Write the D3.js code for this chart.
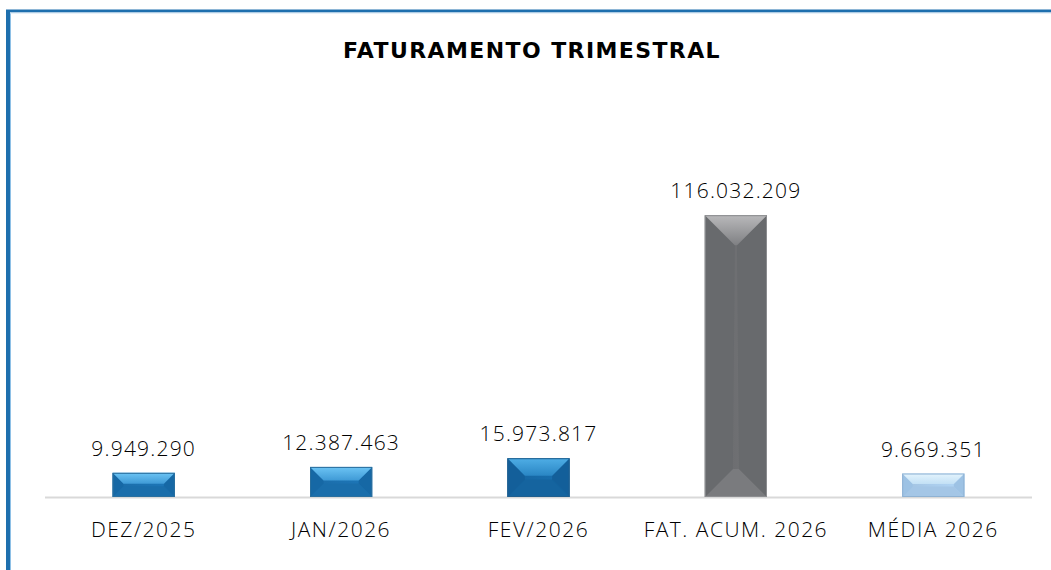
<!DOCTYPE html>
<html><head><meta charset="utf-8">
<script src="https://cdn.jsdelivr.net/npm/d3@7"></script>
<style>
html,body{margin:0;padding:0;background:#fff;}
svg{display:block;}
</style></head>
<body>
<svg id="chart" width="1051" height="570"></svg>
<script>
const title = "FATURAMENTO TRIMESTRAL";
const categories = ["DEZ/2025","JAN/2026","FEV/2026","FAT. ACUM. 2026","MÉDIA 2026"];
const values = [9949290, 12387463, 15973817, 116032209, 9669351];
const valueLabels = ["9.949.290","12.387.463","15.973.817","116.032.209","9.669.351"];
const palette = [
  {top1:"#6cc4f4", top2:"#3f9ad6", side:"#1668a5", bottom:"#1a6eab", mid:"#1c72b1", edge:"#2a6f9e"},
  {top1:"#6cc4f4", top2:"#3f9ad6", side:"#1668a5", bottom:"#1a6eab", mid:"#1c72b1", edge:"#2a6f9e"},
  {top1:"#4faee6", top2:"#2a86c4", side:"#135f9a", bottom:"#15649f", mid:"#176aa8", edge:"#205f8e"},
  {top1:"#b9b9bb", top2:"#7f8083", side:"#686a6d", bottom:"#7a7b7e", mid:"#6e6f72", edge:"#8c8d90"},
  {top1:"#e4f4fd", top2:"#c2e0f5", side:"#9dc2e4", bottom:"#a4c6e6", mid:"#abcdec", edge:"#8fb2d3"}
];

const svg = d3.select("#chart");
const W = 1051, H = 570;
const font = "'Open Sans', Lato, sans-serif";
const titleFont = "'DejaVu Sans', 'Open Sans', sans-serif";

svg.append("rect").attr("x",0).attr("y",0).attr("width",W).attr("height",H).attr("fill","#fff");
// frame (top + left)
svg.append("line").attr("x1",6).attr("x2",W).attr("y1",11).attr("y2",11).attr("stroke","#1e6fae").attr("stroke-width",3);
svg.append("line").attr("x1",8).attr("x2",8).attr("y1",10).attr("y2",H).attr("stroke","#1e6fae").attr("stroke-width",4);
svg.append("line").attr("x1",10.5).attr("x2",10.5).attr("y1",12.5).attr("y2",H).attr("stroke","#8ec0e6").attr("stroke-width",1);
svg.append("line").attr("x1",10).attr("x2",W).attr("y1",13).attr("y2",13).attr("stroke","#cfe3f3").attr("stroke-width",1);

svg.append("text").attr("x",532).attr("y",58).attr("text-anchor","middle")
  .attr("font-family",titleFont).attr("font-weight","bold").attr("font-size",22)
  .attr("letter-spacing","1.4px").attr("fill","#000").text(title);

const x = d3.scaleBand().domain(categories).range([45,1032]).paddingInner(0.685).paddingOuter(0.3425);
const y = d3.scaleLinear().domain([0,140000000]).range([497,157]);

// axis baseline
svg.append("line").attr("x1",45).attr("x2",1032).attr("y1",497.5).attr("y2",497.5).attr("stroke","#d9d9d9").attr("stroke-width",2);

const defs = svg.append("defs");
const g = svg.append("g");
categories.forEach((c,i)=>{
  const x0 = x(c), bw = x.bandwidth(), x1 = x0+bw;
  const yt = y(values[i]), yb = y(0), h = yb-yt;
  const dTop = Math.min(bw/2, h*0.45, 30);
  const dBot = Math.min(bw/2, h*0.45, 28);
  const p = palette[i];
  const gid = "tg"+i, mid = "mg"+i;
  const lg = defs.append("linearGradient").attr("id",gid).attr("x1",0).attr("y1",0).attr("x2",0).attr("y2",1);
  lg.append("stop").attr("offset","0%").attr("stop-color",p.top1);
  lg.append("stop").attr("offset","100%").attr("stop-color",p.top2);
  const mg = defs.append("linearGradient").attr("id",mid).attr("x1",0).attr("y1",0).attr("x2",1).attr("y2",0);
  mg.append("stop").attr("offset","0%").attr("stop-color",d3.color(p.mid).darker(0.15));
  mg.append("stop").attr("offset","50%").attr("stop-color",p.mid);
  mg.append("stop").attr("offset","100%").attr("stop-color",d3.color(p.mid).brighter(0.12));
  const bg = g.append("g");
  bg.append("rect").attr("x",x0).attr("y",yt).attr("width",bw).attr("height",h).attr("fill",`url(#${mid})`);
  // bottom bevel
  bg.append("path").attr("d",`M${x0},${yb}L${x0+dBot},${yb-dBot}L${x1-dBot},${yb-dBot}L${x1},${yb}Z`).attr("fill",p.bottom);
  // left side
  bg.append("path").attr("d",`M${x0},${yt}L${x0+dTop},${yt+dTop}L${x0+dBot},${yb-dBot}L${x0},${yb}Z`).attr("fill",p.side);
  // right side
  bg.append("path").attr("d",`M${x1},${yt}L${x1-dTop},${yt+dTop}L${x1-dBot},${yb-dBot}L${x1},${yb}Z`).attr("fill",p.side);
  // top bevel
  bg.append("path").attr("d",`M${x0},${yt}L${x0+dTop},${yt+dTop}L${x1-dTop},${yt+dTop}L${x1},${yt}Z`).attr("fill",`url(#${gid})`);
  bg.append("rect").attr("x",x0+0.5).attr("y",yt+0.5).attr("width",bw-1).attr("height",h-1)
    .attr("fill","none").attr("stroke",p.edge).attr("stroke-width",1);
  svg.append("text").attr("x",x0+bw/2).attr("y",yt-17).attr("text-anchor","middle")
    .attr("font-family",font).attr("font-weight",300).attr("font-size",21).attr("letter-spacing","1.2px")
    .attr("fill","#000").text(valueLabels[i]);
  svg.append("text").attr("x",x0+bw/2).attr("y",537).attr("text-anchor","middle")
    .attr("font-family",font).attr("font-weight",300).attr("font-size",21).attr("letter-spacing","1.5px")
    .attr("fill","#000").text(c);
});
</script>
</body></html>
